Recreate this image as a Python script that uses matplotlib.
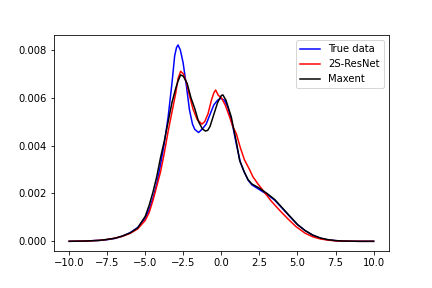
import matplotlib
matplotlib.use("Agg")
import matplotlib.pyplot as plt

# values
x_true = [-10, -9, -8, -7.5, -7, -6.5, -6, -5.5, -5, -4.75, -4.5, -4.25, -4, -3.75,
          -3.5, -3.25, -3.07, -2.95, -2.85, -2.7, -2.52, -2.3, -2.1, -1.9, -1.75,
          -1.5, -1.25, -1, -0.75, -0.5, -0.25, -0.05, 0.2, 0.43, 0.75, 1, 1.25, 1.5,
          1.75, 2, 2.5, 3, 3.5, 4, 4.5, 5, 5.5, 6, 6.5, 7, 7.5, 8, 9, 10]
y_true = [0, 0.00001, 0.00004, 0.00007, 0.00012, 0.00022, 0.00036, 0.00058, 0.00098,
          0.00132, 0.0018, 0.0024, 0.0032, 0.0041, 0.0052, 0.0066, 0.00776, 0.0081,
          0.00821, 0.0080, 0.00748, 0.0065, 0.0055, 0.0049, 0.00468, 0.00455,
          0.0047, 0.0049, 0.0053, 0.0057, 0.0059, 0.00598, 0.0059, 0.0056, 0.0048,
          0.0040, 0.0033, 0.0029, 0.00256, 0.00236, 0.00216, 0.00196, 0.00172,
          0.00138, 0.00103, 0.0007, 0.00045, 0.00026, 0.00013, 0.00006, 0.00003,
          0.00001, 0, 0]

x_resnet = [-10, -9, -8, -7.5, -7, -6.5, -6, -5.5, -5, -4.75, -4.5, -4.25, -4, -3.75,
            -3.5, -3.25, -3, -2.85, -2.68, -2.5, -2.3, -2.1, -1.87, -1.6, -1.28, -1.1,
            -0.88, -0.66, -0.5, -0.38, -0.2, 0, 0.25, 0.54, 0.75, 0.98, 1.25, 1.52,
            1.85, 2.07, 2.4, 2.72, 3.25, 3.82, 4.4, 4.91, 5.5, 6, 6.5, 7, 7.5, 8, 9, 10]
y_resnet = [0, 0.00001, 0.00004, 0.00008, 0.00013, 0.00021, 0.00033, 0.00052, 0.00088,
            0.0012, 0.0017, 0.0023, 0.0029, 0.0037, 0.0046, 0.0054, 0.0062, 0.0068,
            0.00711, 0.0070, 0.00665, 0.0061, 0.00554, 0.0051, 0.0049, 0.0050,
            0.00533, 0.00589, 0.0062, 0.00633, 0.0061, 0.0060, 0.0057, 0.0052, 0.0048,
            0.0045, 0.0039, 0.0034, 0.0030, 0.0027, 0.0024, 0.00214, 0.0017, 0.0013,
            0.00092, 0.00061, 0.00034, 0.00019, 0.0001, 0.00005, 0.00002, 0.00001, 0, 0]

x_maxent = [-10, -9, -8, -7.5, -7, -6.5, -6, -5.5, -5, -4.75, -4.5, -4.25, -4, -3.75,
            -3.5, -3.25, -3, -2.85, -2.68, -2.5, -2.25, -2, -1.75, -1.5, -1.25, -1.05,
            -0.9, -0.75, -0.5, -0.25, 0, 0.1, 0.3, 0.5, 0.65, 0.87, 1, 1.19, 1.5, 1.75,
            2, 2.5, 3, 3.5, 4, 4.5, 5, 5.5, 6, 6.5, 7, 7.5, 8, 9, 10]
y_maxent = [0, 0.00001, 0.00004, 0.00008, 0.00013, 0.00022, 0.00035, 0.00056, 0.00105,
            0.0015, 0.00205, 0.0027, 0.0035, 0.0042, 0.0050, 0.0058, 0.0064, 0.0067,
            0.00696, 0.0069, 0.0066, 0.0060, 0.00555, 0.0050, 0.0047, 0.00461,
            0.00464, 0.0048, 0.0053, 0.0058, 0.0061, 0.00612, 0.0059, 0.0055, 0.0052,
            0.0045, 0.0041, 0.0034, 0.0029, 0.00258, 0.0024, 0.00222, 0.002, 0.00175,
            0.0014, 0.00105, 0.0007, 0.00045, 0.00026, 0.00014, 0.00007, 0.00003,
            0.00001, 0, 0]

fig = plt.figure(figsize=(6, 4), dpi=72)
ax = fig.add_axes([0.125, 0.128, 0.775, 0.75])
ax.plot(x_true, y_true, color='blue', label='True data')
ax.plot(x_resnet, y_resnet, color='red', label='2S-ResNet')
ax.plot(x_maxent, y_maxent, color='black', label='Maxent')
ax.legend(loc='upper right')

fig.savefig('out.png', dpi=72)
